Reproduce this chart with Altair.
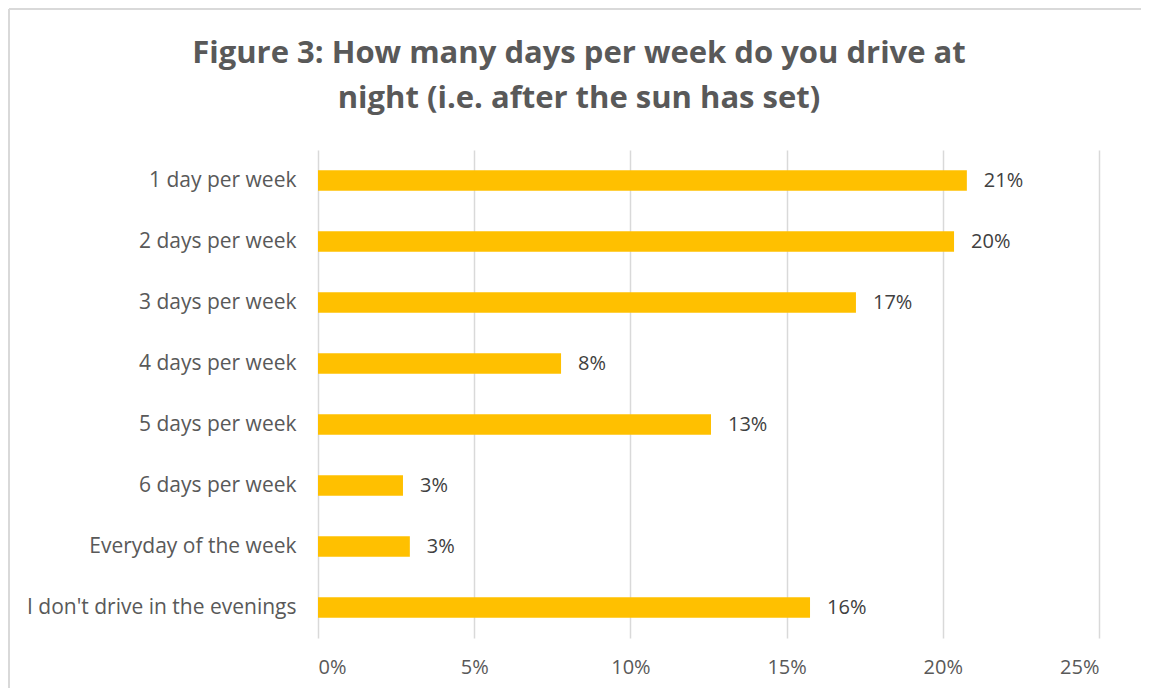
import altair as alt
import pandas as pd

categories = [
    "1 day per week",
    "2 days per week",
    "3 days per week",
    "4 days per week",
    "5 days per week",
    "6 days per week",
    "Everyday of the week",
    "I don't drive in the evenings",
]
shares = [0.2077, 0.2036, 0.1722, 0.0778, 0.1258, 0.0272, 0.0294, 0.1575]
x_ticks = [0, 0.05, 0.10, 0.15, 0.20, 0.25]
title_lines = ["Figure 3: How many days per week do you drive at",
               "night (i.e. after the sun has set)"]

df = pd.DataFrame({"category": categories, "share": shares})

FONT = "Open Sans"
W, H = 781, 488

base = alt.Chart(df).encode(
    y=alt.Y(
        "category:N",
        sort=categories,
        scale=alt.Scale(paddingInner=0.66, paddingOuter=0.33),
        axis=alt.Axis(
            title=None, domain=False, ticks=False, labelFontSize=21,
            labelColor="#595959", labelFont=FONT, labelPadding=22, labelLimit=400,
        ),
    ),
    x=alt.X(
        "share:Q",
        scale=alt.Scale(domain=[0, 0.25], nice=False),
        axis=alt.Axis(
            title=None, format=".0%", values=x_ticks, domain=False, ticks=False,
            grid=True, gridColor="#d9d9d9", gridWidth=1.5,
            labelFontSize=20, labelColor="#595959", labelFont=FONT, labelPadding=19,
        ),
    ),
)

bars = base.mark_bar(color="#FFC000")

labels = base.transform_calculate(
    label="format(datum.share, '.0%')"
).mark_text(
    align="left", baseline="middle", dx=17, fontSize=20, font=FONT, color="#404040"
).encode(text="label:N")

title_df = pd.DataFrame({"line": title_lines, "row": [0, 1]})


def title_line(row, ypos):
    return alt.Chart(title_df).transform_filter(
        alt.datum.row == row
    ).mark_text(
        align="center", baseline="middle", fontSize=31, fontWeight="bold",
        font=FONT, color="#595959",
    ).encode(x=alt.value(261), y=alt.value(ypos), text="line:N")


title1 = title_line(0, -96)
title2 = title_line(1, -51)

border_df = pd.DataFrame({"k": [0]})
top_rule = alt.Chart(border_df).mark_rule(color="#d9d9d9", strokeWidth=2).encode(
    x=alt.value(-309), x2=alt.value(W + 200), y=alt.value(-141)
)
left_rule = alt.Chart(border_df).mark_rule(color="#d9d9d9", strokeWidth=2).encode(
    x=alt.value(-309), y=alt.value(-141), y2=alt.value(H + 200)
)

chart = alt.layer(top_rule, left_rule, bars, labels, title1, title2).properties(
    width=W,
    height=H,
    autosize=alt.AutoSizeParams(type="none"),
    padding={"left": 310, "top": 142, "right": 42, "bottom": 50},
).configure_view(stroke=None)

chart.save("out.html", embed_options={"renderer": "svg", "actions": False})
